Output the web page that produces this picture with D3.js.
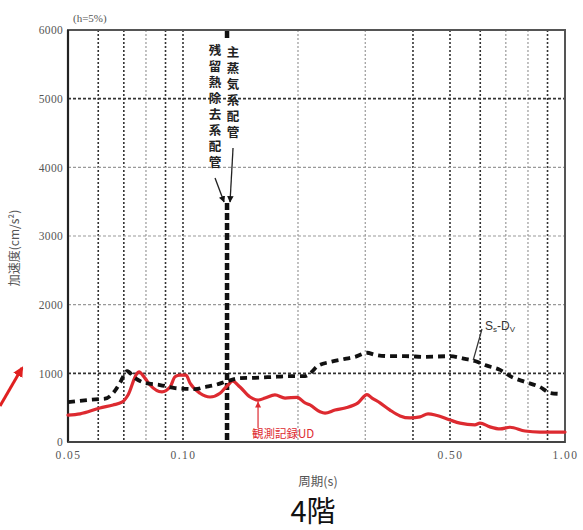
<!DOCTYPE html>
<html>
<head>
<meta charset="utf-8">
<script src="https://cdn.jsdelivr.net/npm/d3@7"></script>
<style>
  html, body { margin: 0; padding: 0; background: #fff; }
  svg { display: block; }
</style>
</head>
<body>
<svg id="chart" width="583" height="530"></svg>
<script>
// Floor response spectrum, 4th floor (vertical), h = 5%
const periodTicks = [0.05, 0.10, 0.50, 1.00];
const periodTickLabels = ["0.05", "0.10", "0.50", "1.00"];
const periodGrid = [0.06, 0.07, 0.08, 0.09, 0.10, 0.2, 0.3, 0.4, 0.5, 0.6, 0.7, 0.8, 0.9];
const accelTicks = [0, 1000, 2000, 3000, 4000, 5000, 6000];

// Observed record (UD): [period s, acceleration cm/s²]
const observedUD = [
  [0.050, 390], [0.0538, 410], [0.0606, 495], [0.0656, 540], [0.0692, 580],
  [0.0718, 685], [0.0758, 1000], [0.0767, 1020], [0.0795, 930], [0.0820, 830],
  [0.0881, 730], [0.0925, 800], [0.0953, 950], [0.0982, 975], [0.1018, 975],
  [0.1043, 860], [0.1108, 710], [0.1177, 655], [0.1250, 710], [0.1288, 785],
  [0.1328, 860], [0.1344, 890], [0.1410, 800], [0.1498, 655], [0.1572, 610],
  [0.1640, 640], [0.1741, 685], [0.1850, 640], [0.1988, 650], [0.2087, 570],
  [0.2150, 540], [0.2284, 440], [0.2354, 420], [0.2500, 465], [0.2656, 495],
  [0.2872, 570], [0.3032, 690], [0.3125, 640], [0.3279, 570], [0.3483, 465],
  [0.3700, 380], [0.3929, 350], [0.4174, 365], [0.4380, 410], [0.4600, 390],
  [0.500, 320], [0.531, 275], [0.581, 250], [0.599, 275], [0.636, 220],
  [0.676, 190], [0.718, 215], [0.786, 160], [0.860, 145], [0.942, 145], [1.0, 145]
];

// Design spectrum Ss-Dv: [period s, acceleration cm/s²]
const designSsDv = [
  [0.050, 580], [0.0606, 625], [0.0625, 630], [0.0656, 710], [0.0684, 860],
  [0.0705, 1000], [0.0714, 1030], [0.0749, 930], [0.0795, 860], [0.0871, 830],
  [0.0953, 785], [0.1012, 775], [0.1075, 770], [0.1142, 800], [0.1213, 830],
  [0.1312, 890], [0.1410, 930], [0.1544, 935], [0.1690, 945], [0.1906, 960],
  [0.2087, 960], [0.2150, 1000], [0.2257, 1110], [0.2426, 1165], [0.2656, 1210],
  [0.2820, 1240], [0.3032, 1300], [0.3182, 1270], [0.3483, 1250], [0.3812, 1250],
  [0.430, 1240], [0.500, 1250], [0.5475, 1210], [0.581, 1180], [0.6176, 1120],
  [0.676, 1050], [0.7267, 945], [0.786, 875], [0.860, 800], [0.914, 715], [0.975, 700]
];

// Natural period of the piping systems marked on the chart
const pipingPeriod = 0.1304;
const pipingLabels = ["主蒸気系配管", "残留熱除去系配管"];

const svg = d3.select("#chart");
const m = { left: 68, right: 565, top: 30, bottom: 442 };

const x = d3.scaleLog().domain([0.05, 1.0]).range([m.left, m.right]);
const y = d3.scaleLinear().domain([0, 6000]).range([m.bottom, m.top]);

const serif = "'Liberation Serif', 'DejaVu Serif', serif";
const cjk = "'Noto Sans CJK JP', 'Noto Sans', sans-serif";

// grid
const darkV = new Set([0.06, 0.07, 0.09, 0.10, 0.4, 0.5, 0.6, 0.9]);
svg.append("g").selectAll("line").data(periodGrid).join("line")
  .attr("x1", d => x(d)).attr("x2", d => x(d))
  .attr("y1", m.top).attr("y2", m.bottom)
  .attr("stroke", d => darkV.has(d) ? "#333" : "#999")
  .attr("stroke-width", d => darkV.has(d) ? 1.6 : 1.2)
  .attr("stroke-dasharray", "2,2");

const darkH = new Set([1000, 5000]);
svg.append("g").selectAll("line").data(accelTicks.filter(d => d > 0 && d < 6000)).join("line")
  .attr("x1", m.left).attr("x2", m.right)
  .attr("y1", d => y(d)).attr("y2", d => y(d))
  .attr("stroke", d => darkH.has(d) ? "#333" : "#999")
  .attr("stroke-width", d => darkH.has(d) ? 1.6 : 1.2)
  .attr("stroke-dasharray", "3,2");

// frame
svg.append("rect")
  .attr("x", m.left).attr("y", m.top)
  .attr("width", m.right - m.left).attr("height", m.bottom - m.top)
  .attr("fill", "none").attr("stroke", "#555").attr("stroke-width", 2);
svg.append("line")
  .attr("x1", m.left).attr("x2", m.left).attr("y1", m.top).attr("y2", m.bottom)
  .attr("stroke", "#222").attr("stroke-width", 2.2);
svg.append("line")
  .attr("x1", m.left).attr("x2", m.right).attr("y1", m.bottom).attr("y2", m.bottom)
  .attr("stroke", "#444").attr("stroke-width", 2.2);

// axis tick labels
const yAxis = d3.axisLeft(y).tickValues(accelTicks).tickSize(0).tickPadding(5).tickFormat(d3.format("d"));
const gy = svg.append("g").attr("transform", `translate(${m.left},0)`).call(yAxis);
gy.select(".domain").remove();
gy.selectAll("text").attr("font-family", serif).attr("font-size", 11.5)
  .attr("fill", "#555").attr("letter-spacing", "0.3px");

const xAxis = d3.axisBottom(x).tickValues(periodTicks).tickSize(0).tickPadding(9)
  .tickFormat((d, i) => periodTickLabels[i]);
const gx = svg.append("g").attr("transform", `translate(0,${m.bottom})`).call(xAxis);
gx.select(".domain").remove();
gx.selectAll("text").attr("font-family", serif).attr("font-size", 11.5)
  .attr("fill", "#555").attr("letter-spacing", "1.5px");

// piping period marker (dash line)
const px = x(pipingPeriod);
svg.append("line")
  .attr("x1", px).attr("x2", px)
  .attr("y1", 203).attr("y2", m.bottom)
  .attr("stroke", "#111").attr("stroke-width", 4.5)
  .attr("stroke-dasharray", "7,3");
svg.append("line")
  .attr("x1", px).attr("x2", px)
  .attr("y1", m.top + 1).attr("y2", m.top + 8)
  .attr("stroke", "#111").attr("stroke-width", 4.5);

// vertical piping labels
const labelCols = [
  { text: pipingLabels[0], cx: px + 6, top: 46 },
  { text: pipingLabels[1], cx: px - 12, top: 44 }
];
labelCols.forEach(col => {
  svg.append("text")
    .attr("x", col.cx).attr("y", col.top)
    .style("writing-mode", "vertical-rl")
    .attr("font-family", cjk).attr("font-size", 12.5).attr("font-weight", 700)
    .attr("letter-spacing", "3.5px").attr("fill", "#222")
    .text(col.text);
});
// leaders with arrowheads
svg.append("defs").append("marker")
  .attr("id", "ah").attr("viewBox", "0 0 10 10").attr("refX", 9).attr("refY", 5)
  .attr("markerWidth", 5).attr("markerHeight", 5).attr("orient", "auto-start-reverse")
  .append("path").attr("d", "M0,0L10,5L0,10z").attr("fill", "#111");
svg.append("line").attr("x1", px + 6).attr("y1", 148).attr("x2", px + 3).attr("y2", 202)
  .attr("stroke", "#222").attr("stroke-width", 1.3).attr("marker-end", "url(#ah)");
svg.append("line").attr("x1", px - 12).attr("y1", 178).attr("x2", px - 3).attr("y2", 202)
  .attr("stroke", "#222").attr("stroke-width", 1.3).attr("marker-end", "url(#ah)");

// curves
const line = d3.line().x(d => x(d[0])).y(d => y(d[1])).curve(d3.curveMonotoneX);

svg.append("path").datum(observedUD)
  .attr("d", line).attr("fill", "none")
  .attr("stroke", "#dd2a30").attr("stroke-width", 3.2)
  .attr("stroke-linejoin", "round").attr("stroke-linecap", "round");

svg.append("path").datum(designSsDv)
  .attr("d", line).attr("fill", "none")
  .attr("stroke", "#111").attr("stroke-width", 3.8)
  .attr("stroke-dasharray", "7,5");

// Ss-Dv label
const sLab = svg.append("text").attr("x", 485).attr("y", 330)
  .attr("font-family", "'Liberation Sans', Arial, sans-serif").attr("font-size", 12).attr("fill", "#333");
sLab.append("tspan").text("S");
sLab.append("tspan").attr("font-size", 8).attr("dy", 2).text("s");
sLab.append("tspan").attr("dy", -2).text("-D");
sLab.append("tspan").attr("font-size", 8).attr("dy", 2).text("V");
svg.append("line").attr("x1", 482).attr("y1", 329).attr("x2", x(0.575)).attr("y2", y(1190))
  .attr("stroke", "#333").attr("stroke-width", 1.2);

// observed record label
svg.append("line").attr("x1", x(0.1572)).attr("y1", 428).attr("x2", x(0.1572)).attr("y2", y(590))
  .attr("stroke", "#dd2a30").attr("stroke-width", 1.2);
svg.append("path")
  .attr("d", `M${x(0.1572)},${y(590)}l-3,6h6z`).attr("fill", "#dd2a30");
svg.append("text").attr("x", 252).attr("y", 438)
  .attr("font-family", cjk).attr("font-size", 11.5).attr("fill", "#dd2a30")
  .text("観測記録UD");

// damping note
svg.append("text").attr("x", 73).attr("y", 22)
  .attr("font-family", serif).attr("font-size", 11).attr("fill", "#555").text("(h=5%)");

// axis titles
svg.append("text").attr("transform", "translate(19,248) rotate(-90)")
  .attr("text-anchor", "middle").attr("font-family", cjk).attr("font-size", 12)
  .attr("fill", "#555").text("加速度(cm/s²)");
svg.append("text").attr("x", 318).attr("y", 486)
  .attr("text-anchor", "middle").attr("font-family", cjk).attr("font-size", 12.5)
  .attr("fill", "#555").text("周期(s)");
svg.append("text").attr("x", 313).attr("y", 522)
  .attr("text-anchor", "middle").attr("font-family", cjk).attr("font-size", 29)
  .attr("fill", "#111").text("4階");

// pointer arrow at left
svg.append("defs").append("marker")
  .attr("id", "ahr").attr("viewBox", "0 0 10 10").attr("refX", 8).attr("refY", 5)
  .attr("markerWidth", 3.5).attr("markerHeight", 3.5).attr("orient", "auto")
  .append("path").attr("d", "M0,0L10,5L0,10z").attr("fill", "#e02020");
svg.append("line").attr("x1", 0).attr("y1", 406).attr("x2", 22).attr("y2", 368)
  .attr("stroke", "#e02020").attr("stroke-width", 3).attr("marker-end", "url(#ahr)");
</script>
</body>
</html>
